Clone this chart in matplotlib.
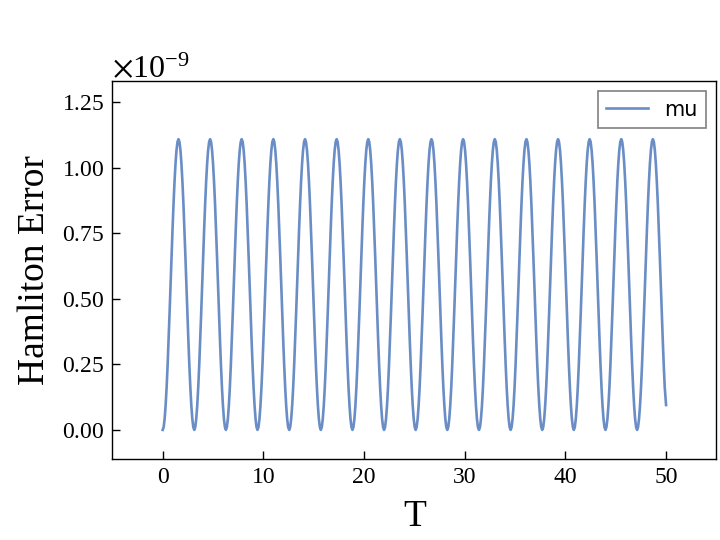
import matplotlib
matplotlib.use("Agg")
import matplotlib.pyplot as plt

# ---- data ----
# times of the troughs (curve touches zero) for each oscillation
trough_times = [0.0, 3.14, 6.28, 9.42, 12.57, 15.71, 18.85, 21.99,
                25.13, 28.27, 31.42, 34.56, 37.70, 40.84, 43.98, 47.12]
# peak height of each oscillation (in units of 1e-9)
peak_heights = [1.11, 1.11, 1.11, 1.11, 1.11, 1.11, 1.11, 1.11,
                1.11, 1.11, 1.11, 1.11, 1.11, 1.11, 1.11, 1.11]
# sampled shape of one oscillation: time offset from trough and relative height
cycle_offsets = [0.000, 0.098, 0.196, 0.295, 0.393, 0.491, 0.589, 0.687,
                 0.785, 0.884, 0.982, 1.080, 1.178, 1.276, 1.374, 1.473,
                 1.571, 1.669, 1.767, 1.865, 1.963, 2.062, 2.160, 2.258,
                 2.356, 2.454, 2.553, 2.651, 2.749, 2.847, 2.945, 3.043]
cycle_shape = [0.0, 0.0096, 0.0381, 0.0843, 0.1464, 0.2222, 0.3087, 0.4025,
               0.5, 0.5975, 0.6913, 0.7778, 0.8536, 0.9157, 0.9619, 0.9904,
               1.0, 0.9904, 0.9619, 0.9157, 0.8536, 0.7778, 0.6913, 0.5975,
               0.5, 0.4025, 0.3087, 0.2222, 0.1464, 0.0843, 0.0381, 0.0096]
t_end = 50.0
end_value = 0.095

scale = 1e-9
series_label = "mu"
x_label = "T"
y_label = "Hamliton Error"
y_ticks = [0.0, 0.25, 0.5, 0.75, 1.0, 1.25]
x_ticks = [0, 10, 20, 30, 40, 50]

# build the series
T, H = [], []
for t0, h in zip(trough_times, peak_heights):
    for dt, s in zip(cycle_offsets, cycle_shape):
        t = t0 + dt
        if t < t_end - 0.12:
            T.append(t)
            H.append(h * s * scale)
T.append(t_end)
H.append(end_value * scale)

plt.rcParams['font.family'] = ['serif']
plt.rcParams['font.serif'] = ['Times New Roman', 'Liberation Serif', 'DejaVu Serif']
plt.rcParams['mathtext.fontset'] = 'stix'

fig = plt.figure(figsize=(7.2, 5.4), dpi=100)
ax = fig.add_axes([0.156, 0.15, 0.839, 0.70])

ax.plot(T, H, color='#6a8dc6', lw=1.9, label=series_label)

ymax = max(H)
ax.set_xlim(-0.1 * t_end, 1.1 * t_end)
ax.set_ylim(-0.1 * ymax, 1.2 * ymax)
ax.set_yticks([v * scale for v in y_ticks])
ax.set_xticks(x_ticks)
ax.ticklabel_format(axis='y', style='sci', scilimits=(0, 0), useMathText=True)

ax.tick_params(direction='in', labelsize=17, length=6, width=1, pad=6)
ax.yaxis.get_offset_text().set_fontsize(23)
for sp in ax.spines.values():
    sp.set_linewidth(1.0)

ax.set_xlabel(x_label, fontsize=27, labelpad=8)
ax.set_ylabel(y_label, fontsize=27, labelpad=7)

leg = ax.legend(loc='upper right', fancybox=False, edgecolor='gray', framealpha=1,
                prop={'family': 'DejaVu Sans', 'size': 15}, handlelength=2.0)
leg.get_frame().set_linewidth(1.2)

fig.savefig("out.png", dpi=100)
